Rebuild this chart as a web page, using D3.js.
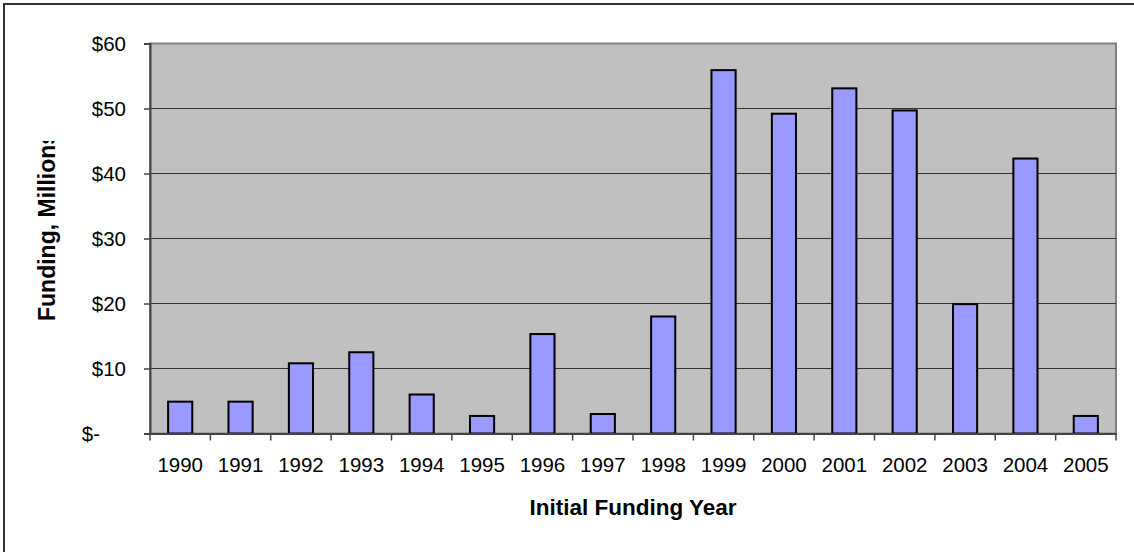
<!DOCTYPE html>
<html>
<head>
<meta charset="utf-8">
<script src="https://cdn.jsdelivr.net/npm/d3@7"></script>
<style>
  body { margin: 0; background: #fff; }
  svg text { font-family: "Liberation Sans", Arial, sans-serif; fill: #000; }
</style>
</head>
<body>
<div id="chart"></div>
<script>
const years = ["1990","1991","1992","1993","1994","1995","1996","1997","1998","1999","2000","2001","2002","2003","2004","2005"];
const funding = [4.9, 4.9, 10.8, 12.5, 6.0, 2.7, 15.3, 3.0, 18.0, 55.9, 49.2, 53.1, 49.7, 19.9, 42.3, 2.7];
const yTicks = [0, 10, 20, 30, 40, 50, 60];

const width = 1134, height = 552;
const margin = {left: 150, right: 18, top: 43.5, bottom: 118.5};

const svg = d3.select("#chart").append("svg")
  .attr("width", width)
  .attr("height", height);

// outer frame
svg.append("rect")
  .attr("x", 4).attr("y", 4)
  .attr("width", width + 10).attr("height", height + 10)
  .attr("fill", "#fff")
  .attr("stroke", "#333").attr("stroke-width", 2);

const x = d3.scaleBand()
  .domain(years)
  .range([margin.left, width - margin.right])
  .paddingInner(0.6)
  .paddingOuter(0.3);

const y = d3.scaleLinear()
  .domain([0, 60])
  .range([height - margin.bottom, margin.top]);

// plot background
svg.append("rect")
  .attr("x", margin.left).attr("y", margin.top)
  .attr("width", width - margin.right - margin.left)
  .attr("height", y(0) - margin.top)
  .attr("fill", "#c0c0c0")
  .attr("stroke", "#808080").attr("stroke-width", 2);

// gridlines
svg.append("g").selectAll("line")
  .data(yTicks.filter(d => d > 0 && d < 60))
  .join("line")
  .attr("x1", margin.left).attr("x2", width - margin.right)
  .attr("y1", d => y(d)).attr("y2", d => y(d))
  .attr("stroke", "#333").attr("stroke-width", 1.2);

// bars
svg.append("g").selectAll("rect")
  .data(years)
  .join("rect")
  .attr("x", d => x(d))
  .attr("y", (d, i) => y(funding[i]))
  .attr("width", x.bandwidth())
  .attr("height", (d, i) => y(0) - y(funding[i]))
  .attr("fill", "#9999ff")
  .attr("stroke", "#000").attr("stroke-width", 2);

// y axis
const yAxis = svg.append("g")
  .attr("transform", `translate(${margin.left},0)`)
  .call(d3.axisLeft(y).tickValues(yTicks).tickSize(6).tickPadding(18)
    .tickFormat(d => d === 0 ? "$-" : "$" + d));
yAxis.select(".domain").attr("stroke", "#444").attr("stroke-width", 2);
yAxis.selectAll(".tick line").attr("stroke", "#444").attr("stroke-width", 1.5);
yAxis.selectAll("text").style("font-size", "20.5px")
  .attr("dx", d => d === 0 ? -26 : 0);

// x axis
const step = x.step();
const xAxis = svg.append("g")
  .attr("transform", `translate(0,${y(0)})`)
  .call(d3.axisBottom(x).tickSize(0).tickPadding(24));
xAxis.select(".domain").attr("stroke", "#444").attr("stroke-width", 2);
xAxis.selectAll("text").style("font-size", "20.5px");
xAxis.selectAll(".sep")
  .data(d3.range(years.length + 1))
  .join("line")
  .attr("class", "sep")
  .attr("x1", i => margin.left + i * step).attr("x2", i => margin.left + i * step)
  .attr("y1", 0).attr("y2", 7)
  .attr("stroke", "#444").attr("stroke-width", 1.5);

// axis titles
svg.append("text")
  .attr("x", (margin.left + width - margin.right) / 2)
  .attr("y", 515)
  .attr("text-anchor", "middle")
  .style("font-size", "22.5px").style("font-weight", "bold")
  .text("Initial Funding Year");

svg.append("clipPath").attr("id", "yclip")
  .append("rect").attr("x", 0).attr("y", 141).attr("width", 140).attr("height", 300);

svg.append("g")
  .attr("clip-path", "url(#yclip)")
  .append("text")
  .attr("transform", "translate(55.2,321) rotate(-90)")
  .attr("text-anchor", "start")
  .style("font-size", "23px").style("font-weight", "bold")
  .text("Funding, Millions");
</script>
</body>
</html>
